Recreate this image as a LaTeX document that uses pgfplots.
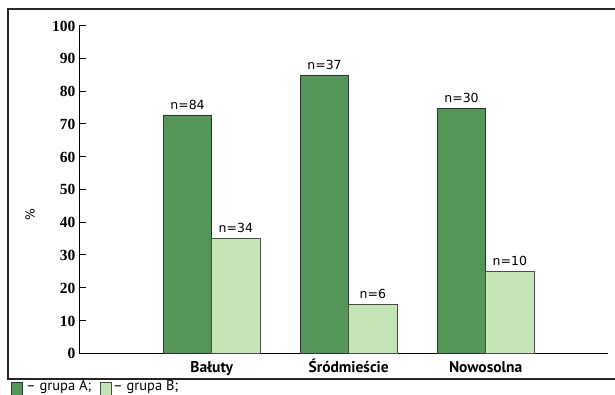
\documentclass[border=0pt]{standalone}
\usepackage{fontspec}
\setmainfont{Liberation Sans}
\newfontfamily\tickfont{Liberation Serif}
\newfontfamily\catfont{PT Sans}
\newfontfamily\nfont{DejaVu Sans}
\usepackage{pgfplots}
\pgfplotsset{compat=1.18}
\definecolor{gA}{RGB}{83,150,87}
\definecolor{gB}{RGB}{197,230,180}
\begin{document}
\begin{tikzpicture}[x=1pt,y=1pt]
\path[use as bounding box] (0,0) rectangle (615,395);
\draw[line width=1.5pt, black!85] (625,386) -- (8,386) -- (8,16) -- (625,16);
\begin{axis}[
  at={(79pt,41.7pt)}, anchor=south west,
  scale only axis, width=529pt, height=327.8pt,
  xmin=0.0314, xmax=3.893, ymin=0, ymax=100,
  axis lines=left, axis line style={-, line width=1pt, black},
  ybar=0pt, bar width=48.3pt,
  xtick={1,2,3}, xticklabels={Bałuty,Śródmieście,Nowosolna},
  major x tick style={draw=none},
  xticklabel style={font=\catfont\bfseries\fontsize{15.5}{15.5}\selectfont, text height=11pt, text depth=3pt, inner sep=0pt, anchor=north, yshift=-7.7pt},
  ytick={0,10,...,100},
  tick align=inside, major tick length=7pt,
  major y tick style={line width=1pt, black},
  yticklabel style={font=\tickfont\bfseries\fontsize{15.5}{15.5}\selectfont, yshift=-0.5pt},
  /pgf/number format/assume math mode=true,
  nodes near coords, point meta=explicit symbolic,
  every node near coord/.append style={font=\nfont\fontsize{12.5}{13}\selectfont, yshift=2pt, black},
  clip=false,
]
\addplot[fill=gA, draw=black!80, line width=0.8pt] coordinates {(1,72.7)[n=84] (2,84.9)[n=37] (3,74.6)[n=30]};
\addplot[fill=gB, draw=black!70, line width=0.8pt] coordinates {(1,34.9)[n=34] (2,14.9)[n=6] (3,25.0)[n=10]};
\node[rotate=90, font=\nfont\fontsize{12.5}{12.5}\selectfont] at (axis description cs:-0.0926,0.422) {\%};
\end{axis}
\filldraw[fill=gA, draw=black!80, line width=0.6pt] (11,12.3) rectangle (22,-3);
\node[anchor=base west, font=\catfont\fontsize{14.5}{14.5}\selectfont, inner sep=0pt] at (26,4) {– grupa A;};
\filldraw[fill=gB, draw=black!70, line width=0.6pt] (100,12.3) rectangle (111,-3);
\node[anchor=base west, font=\catfont\fontsize{14.5}{14.5}\selectfont, inner sep=0pt] at (113,4) {– grupa B;};
\end{tikzpicture}
\end{document}
